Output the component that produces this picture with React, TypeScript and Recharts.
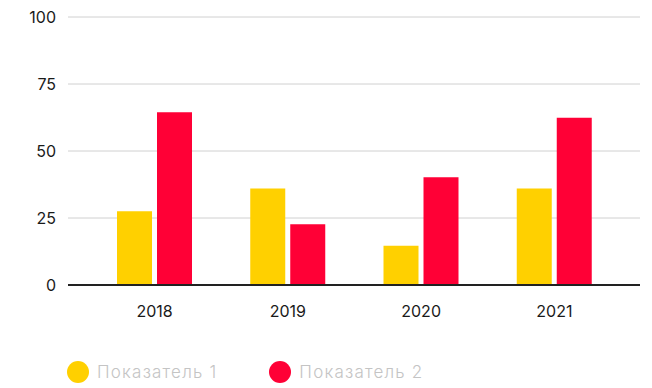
import React from "react";
import { BarChart, Bar, XAxis, YAxis, CartesianGrid, Legend, ReferenceLine } from "recharts";

const years = ["2018", "2019", "2020", "2021"];
const series1 = [27.5, 36, 14.6, 36];
const series2 = [64.5, 22.7, 40.2, 62.4];
const yTicks = [0, 25, 50, 75, 100];
const seriesNames = ["Показатель 1", "Показатель 2"];
const colors = ["#FFD000", "#FF0036"];

const data = years.map((y, i) => ({ year: y, s1: series1[i], s2: series2[i] }));

const FONT = "Inter, 'DejaVu Sans', sans-serif";

const LegendContent = () => (
  <div style={{ display: "flex", alignItems: "center", fontFamily: FONT, height: 22 }}>
    {seriesNames.map((n, i) => (
      <div key={n} style={{ display: "flex", alignItems: "center", marginRight: i === 0 ? 52 : 0 }}>
        <span
          style={{
            display: "inline-block",
            width: 22,
            height: 22,
            borderRadius: "50%",
            background: colors[i],
            marginRight: 8,
          }}
        />
        <span style={{ color: "#c4c4c4", fontSize: 17, fontWeight: 300, letterSpacing: 1.2 }}>{n}</span>
      </div>
    ))}
  </div>
);

export default function App() {
  return (
    <div style={{ position: "absolute", left: 0, top: 0, width: 652, height: 388, background: "#fff" }}>
      <BarChart
        width={652}
        height={388}
        data={data}
        margin={{ top: 17, right: 12, bottom: 41, left: 0 }}
        barSize={35}
        barGap={5}
      >
        <CartesianGrid vertical={false} stroke="#d0d0d0" strokeWidth={1} />
        <XAxis
          dataKey="year"
          axisLine={false}
          tickLine={false}
          tickMargin={15}
          height={40}
          padding={{ left: 20, right: 19 }}
          tick={{ fill: "#1a1a1a", fontSize: 16, fontFamily: FONT }}
        />
        <YAxis
          domain={[0, 100]}
          ticks={yTicks}
          axisLine={false}
          tickLine={false}
          width={68}
          tickMargin={6}
          tick={{ fill: "#1a1a1a", fontSize: 16, fontFamily: FONT }}
        />
        <ReferenceLine y={0} stroke="#222" strokeWidth={2} />
        <Legend
          verticalAlign="bottom"
          align="left"
          content={<LegendContent />}
          wrapperStyle={{ left: 67, bottom: 5, width: "auto" }}
        />
        <Bar dataKey="s1" name={seriesNames[0]} fill={colors[0]} isAnimationActive={false} />
        <Bar dataKey="s2" name={seriesNames[1]} fill={colors[1]} isAnimationActive={false} />
      </BarChart>
    </div>
  );
}
